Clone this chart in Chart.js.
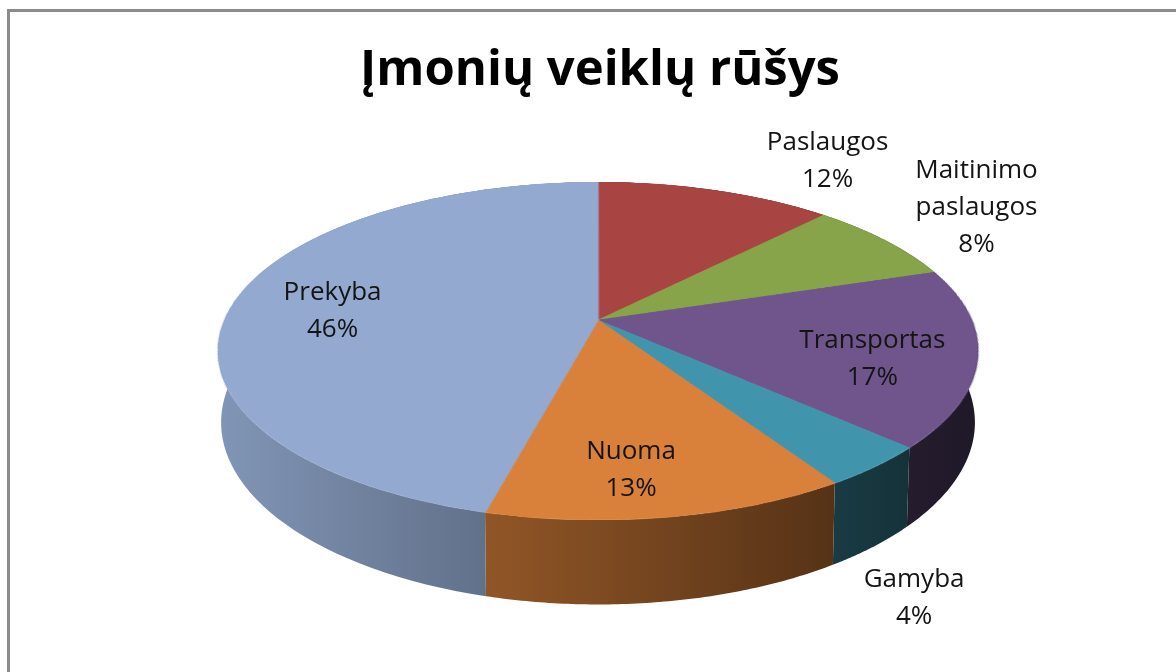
<!DOCTYPE html>
<html>
<head>
<meta charset="utf-8">
<script src="https://cdn.jsdelivr.net/npm/chart.js@4/dist/chart.umd.min.js"></script>
<style>
    html, body { margin: 0; padding: 0; background: #fff; overflow: hidden; }
    #wrap { position: relative; width: 1176px; height: 672px; }
    #frame { position: absolute; left: 7px; top: 9px; right: -10px; bottom: -10px;
             border-top: 3px solid #8b8b8b; border-left: 3px solid #8b8b8b; pointer-events: none; }
    #pg { position: absolute; left: 1159px; top: -14px; font: 16px 'Liberation Serif'; color: #000; }
</style>
</head>
<body>
<div id="wrap">
    <canvas id="pie" width="1176" height="672"></canvas>
    <div id="frame"></div>
    <div id="pg">1</div>
</div>
<script>
// Chart data
const categories = ['Paslaugos', 'Maitinimo paslaugos', 'Transportas', 'Gamyba', 'Nuoma', 'Prekyba'];
const shares = [12, 8, 17, 4, 13, 46];
const sliceColors = ['#A84442', '#88A44A', '#70558D', '#4095AC', '#D9803A', '#93A9CF'];

// where each data label sits on the disc (fraction of radius, turn from slice middle in degrees)
const labelRadius = [1.40, 1.40, 0.74, 1.45, 0.79, 0.72];
const labelTurn = [10.7, -1.7, 5.4, 13.2, 3.5, -2.8];

// perspective view of the flat pie
const V = { cx: 598, apexY: 320, a: 104.6, p: 0.1834, s: 373.5, depth: 69, bottomScale: 0.992 };

function project(X, Z, bottom) {
    const w = 1 - V.p * Z;
    const sc = bottom ? V.s * V.bottomScale : V.s;
    return {
        x: V.cx + sc * X / w,
        y: (V.a * Z + V.apexY) / w + (bottom ? V.depth / w : 0)
    };
}

function shade(hex, f) {
    const n = parseInt(hex.slice(1), 16);
    const r = Math.round(((n >> 16) & 255) * f);
    const g = Math.round(((n >> 8) & 255) * f);
    const b = Math.round((n & 255) * f);
    return `rgb(${r},${g},${b})`;
}

const pie3d = {
    id: 'pie3d',
    afterDatasetsDraw(chart) {
        const ctx = chart.ctx;
        const arcs = chart.getDatasetMeta(0).data;
        const ox = arcs[0].x, oy = arcs[0].y, R = arcs[0].outerRadius;

        // take the flat pie off the canvas
        const size = Math.ceil(2 * R) + 6;
        const sx = Math.round(ox - size / 2), sy = Math.round(oy - size / 2);
        const off = document.createElement('canvas');
        off.width = size; off.height = size;
        off.getContext('2d').drawImage(chart.canvas, sx, sy, size, size, 0, 0, size, size);
        ctx.clearRect(sx, sy, size, size);

        ctx.save();
        // side walls
        arcs.forEach((arc, i) => {
            const steps = 80;
            const top = [], bot = [];
            for (let j = 0; j <= steps; j++) {
                const t = arc.startAngle + (arc.endAngle - arc.startAngle) * j / steps;
                top.push(project(Math.cos(t), Math.sin(t), false));
                bot.push(project(Math.cos(t), Math.sin(t), true));
            }
            ctx.beginPath();
            top.forEach((pt, j) => j ? ctx.lineTo(pt.x, pt.y) : ctx.moveTo(pt.x, pt.y));
            for (let j = bot.length - 1; j >= 0; j--) ctx.lineTo(bot[j].x, bot[j].y);
            ctx.closePath();
            const g = ctx.createLinearGradient(V.cx - 380, 0, V.cx + 380, 0);
            g.addColorStop(0, shade(sliceColors[i], 0.88));
            g.addColorStop(1, shade(sliceColors[i], 0.28));
            ctx.fillStyle = g;
            ctx.fill();
        });

        // top face, row by row in perspective
        const ocx = ox - sx, ocy = oy - sy;
        const yTop = Math.floor(project(0, -1).y), yBot = Math.ceil(project(0, 1).y);
        for (let y = yTop; y < yBot; y++) {
            const yc = y + 0.5;
            const Z = (yc - V.apexY) / (V.a + V.p * yc);
            if (Z < -1 || Z > 1) continue;
            const dZ = (V.a + V.p * V.apexY) / Math.pow(V.a + V.p * yc, 2);
            const h = Math.max(dZ * R, 0.5);
            const k = V.s / R / (1 - V.p * Z);
            ctx.drawImage(off, 0, ocy + Z * R - h / 2, size, h, V.cx - ocx * k, y, size * k, 1);
        }
        ctx.restore();
    },
    afterDraw(chart) {
        const ctx = chart.ctx;
        const arcs = chart.getDatasetMeta(0).data;
        ctx.save();
        ctx.font = '26px "Open Sans"';
        ctx.fillStyle = '#141414';
        ctx.textAlign = 'center';
        ctx.textBaseline = 'middle';
        const lh = 37;
        arcs.forEach((arc, i) => {
            const mid = (arc.startAngle + arc.endAngle) / 2 + labelTurn[i] * Math.PI / 180;
            const pt = project(labelRadius[i] * Math.cos(mid), labelRadius[i] * Math.sin(mid), false);
            const lines = categories[i].split(' ').concat(shares[i] + '%');
            lines.forEach((ln, j) => ctx.fillText(ln, pt.x, pt.y + (j - (lines.length - 1) / 2) * lh));
        });
        ctx.restore();
    }
};

new Chart(document.getElementById('pie'), {
    type: 'pie',
    data: {
        labels: categories,
        datasets: [{
            data: shares,
            backgroundColor: sliceColors,
            borderColor: sliceColors,
            borderWidth: 1
        }]
    },
    options: {
        responsive: false,
        animation: false,
        events: [],
        layout: { padding: { left: 24 } },
        plugins: {
            legend: { display: false },
            tooltip: { enabled: false },
            title: {
                display: true,
                text: 'Įmonių veiklų rūšys',
                color: '#000',
                font: { family: 'Open Sans', size: 49, weight: 'bold' },
                padding: { top: 42, bottom: 10 }
            }
        }
    },
    plugins: [pie3d]
});
</script>
</body>
</html>
